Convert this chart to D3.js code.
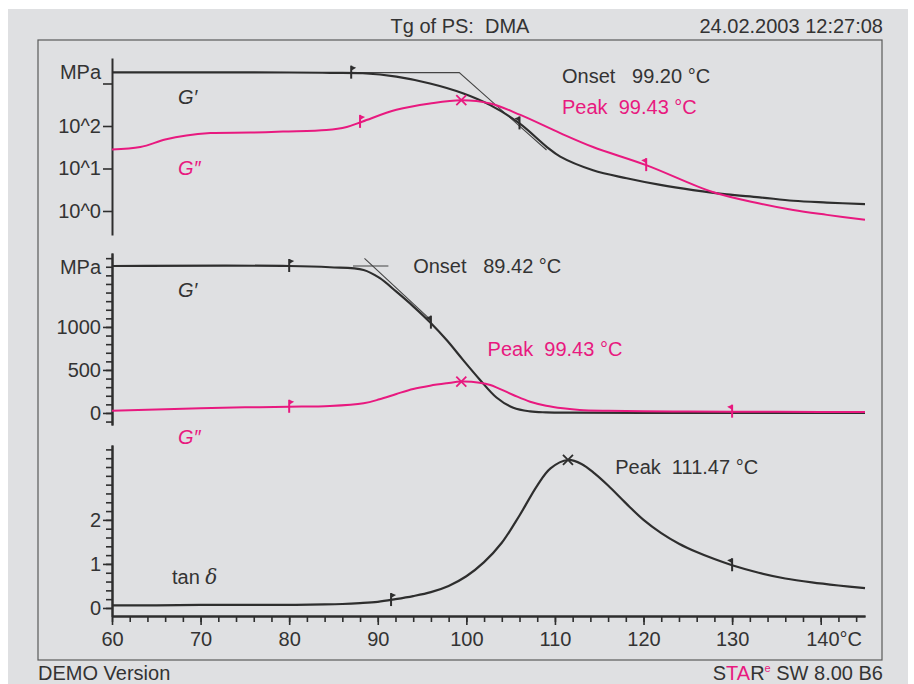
<!DOCTYPE html>
<html>
<head>
<meta charset="utf-8">
<script src="https://cdn.jsdelivr.net/npm/d3@7"></script>
<style>
	body {margin: 0; background: #fff;}
	text {font-family: "Liberation Sans", Arial, sans-serif; font-size: 20px; fill: #333;}
	.pre {white-space: pre;}
</style>
</head>
<body>
<svg id="chart" width="914" height="684"></svg>
<script>
// datos (temperatura en °C, modulo en MPa)
var gPrimeLog = [[60,1820],[70,1820],[80,1815],[84.6,1780],[88.3,1740],[92.1,1445],[95.9,1000],[99.6,590],[102.7,310],[106,115],[109.1,32],[110.6,19],[114.3,9.1],[118.1,5.9],[121.9,4.1],[125.6,3.1],[129.4,2.45],[133.1,2.1],[136.9,1.74],[140.7,1.58],[145,1.45]];
var gSecondLog = [[60,28],[63.2,32],[66,48],[68.4,60],[71.1,68],[75.6,70],[79.3,74],[84.2,80],[86.5,95],[88.3,128],[92.1,240],[95.9,339],[99.43,405],[102.7,339],[106.1,182],[110.6,68],[114.3,32],[120.3,12],[127.8,2.8],[133.1,1.5],[136.9,1.05],[140.7,0.81],[145,0.62]];
var gPrimeLin = [[60,1709],[80,1709],[84.6,1694],[88.4,1663],[90.2,1570],[92.1,1410],[94,1240],[95.9,1055],[97.8,845],[99.6,620],[101.5,390],[103.4,180],[105.3,60],[107.2,18],[109,7],[112,3],[120,2],[145,1]];
var gSecondLin = [[60,27],[65,40],[70,55],[75,65],[80,72],[84.6,81],[88.4,113],[90.2,159],[92.1,221],[94,279],[95.9,317],[97.8,345],[99.43,365],[101.5,352],[102.7,326],[105.3,209],[107.2,131],[109,85],[110.9,55],[112.8,35],[116,25],[120,20],[125,17],[130,15],[135,13],[140,12],[145,11]];
var tanDelta = [[60,0.06],[65,0.06],[70,0.07],[75,0.07],[80,0.07],[84,0.08],[86,0.09],[88,0.11],[90,0.14],[92,0.2],[94,0.27],[96,0.36],[98,0.5],[100,0.72],[102,1.04],[104,1.48],[106,2.1],[108,2.78],[109.5,3.17],[111.47,3.36],[113,3.27],[114.5,3.05],[116,2.78],[118,2.38],[120,2.0],[122,1.7],[124,1.46],[126,1.27],[128,1.11],[130,0.97],[133,0.8],[136,0.67],[139,0.58],[142,0.51],[145,0.45]];

// tangentes de onset
var onsetTan1 = [[86,1800],[99.2,1800],[109.05,27.2]];
var onsetFlat2 = [[87.2,1709],[91.2,1709]];
var onsetSlope2 = [[88.5,1797],[96,1079]];

// marcas (inicio/fin de evaluacion) y picos
var flags1 = [{t:87, v:1800, s:'gp', dir:1},{t:88, v:125, s:'gpp', dir:1},{t:106, v:115, s:'gp', dir:-1},{t:120.3, v:12, s:'gpp', dir:-1}];
var flags2 = [{t:80, v:1709, s:'gp', dir:1},{t:80, v:72, s:'gpp', dir:1},{t:96, v:1050, s:'gp', dir:-1},{t:130, v:15, s:'gpp', dir:-1}];
var flags3 = [{t:91.5, v:0.18, dir:1},{t:130, v:0.97, dir:-1}];
var peak1 = [99.43, 405], peak2 = [99.43, 365], peak3 = [111.47, 3.36];

var xTicksMajor = [60,70,80,90,100,110,120,130,140];
var logTicks = [1,10,100,1000];
var linTicksMajor = [0,500,1000];
var tanTicksMajor = [0,1,2];

var black = '#2e2e2e',
	pink = '#e8197f',
	svg = d3.select('#chart');

svg.append('rect').attr('x', 8).attr('y', 9).attr('width', 900).attr('height', 675).attr('fill', '#dfe0e2');
svg.append('rect').attr('x', 38).attr('y', 40).attr('width', 844).attr('height', 620)
	.attr('fill', 'none').attr('stroke', '#5a5a5a').attr('stroke-width', 1.2);

var x = d3.scaleLinear().domain([60,145]).range([112, 865]),
	y1 = d3.scaleLog().domain([Math.pow(10,-0.565), Math.pow(10,3.6)]).range([235, 58]),
	y2 = d3.scaleLinear().domain([-140, 1860]).range([425, 253]),
	y3 = d3.scaleLinear().domain([-0.182, 3.7]).range([616, 445]);

function styleAxis(g){
	g.select('.domain').attr('stroke', black).attr('stroke-width', 2);
	g.selectAll('.tick line').attr('stroke', black).attr('stroke-width', 1.6);
	g.selectAll('.tick text').attr('fill', '#333').style('font-size', '20px').attr('font-family', null);
}

function yAxis(scale, major, fmt, minorStep, minorFrom){
	var g = svg.append('g').attr('transform', 'translate(112,0)');
	if (minorStep){
		var minor = d3.range(minorFrom, scale.domain()[1], minorStep);
		var gm = g.append('g').call(d3.axisLeft(scale).tickValues(minor).tickSize(6).tickSizeOuter(0).tickFormat(''));
		styleAxis(gm);
	}
	var ga = g.append('g').call(d3.axisLeft(scale).tickValues(major).tickSize(9).tickPadding(2).tickSizeOuter(0).tickFormat(fmt));
	styleAxis(ga);
	return g;
}

function unitLabel(scale){
	svg.append('text').attr('x', 101).attr('y', scale.range()[1] + 21)
		.attr('text-anchor', 'end').text('MPa');
}

// ejes y
yAxis(y1, logTicks, function(d){ return d == 1000 ? '' : '10^' + Math.round(Math.log10(d)); });
unitLabel(y1);
yAxis(y2, linTicksMajor, function(d){ return d; }, 100, -100);
unitLabel(y2);
yAxis(y3, tanTicksMajor, function(d){ return d; }, 0.2, 0);

// eje x
var gx = svg.append('g').attr('transform', 'translate(0,616)');
var gxm = gx.append('g').call(d3.axisBottom(x).tickValues(d3.range(60, 146, 2)).tickSize(6).tickSizeOuter(0).tickFormat(''));
styleAxis(gxm);
var gxa = gx.append('g').call(d3.axisBottom(x).tickValues(xTicksMajor).tickSize(9).tickPadding(7).tickSizeOuter(0)
	.tickFormat(function(d){ return d == 140 ? '140°C' : d; }));
styleAxis(gxa);
gxa.selectAll('.tick text').filter(function(d){ return d == 140; })
	.attr('text-anchor', 'start').attr('x', -15);

// curvas
function curve(data, yScale, color, w){
	var line = d3.line().x(function(d){ return x(d[0]); }).y(function(d){ return yScale(d[1]); }).curve(d3.curveCatmullRom.alpha(0.5));
	svg.append('path').datum(data).attr('d', line).attr('fill', 'none')
		.attr('stroke', color).attr('stroke-width', w).attr('stroke-linejoin', 'round');
}

function straight(data, yScale){
	var line = d3.line().x(function(d){ return x(d[0]); }).y(function(d){ return yScale(d[1]); });
	svg.append('path').datum(data).attr('d', line).attr('fill', 'none')
		.attr('stroke', '#444').attr('stroke-width', 1.1);
}

function flag(t, v, yScale, dir, color){
	var px = x(t), py = yScale(v);
	svg.append('line').attr('x1', px).attr('x2', px).attr('y1', py - 7).attr('y2', py + 6)
		.attr('stroke', color).attr('stroke-width', 2);
	svg.append('path').attr('d', 'M' + px + ',' + (py - 7) + 'L' + (px + 5*dir) + ',' + (py - 5) + 'L' + px + ',' + (py - 2) + 'Z')
		.attr('fill', color);
}

function cross(t, v, yScale, color){
	var px = x(t), py = yScale(v), r = 5;
	svg.append('path').attr('d', 'M' + (px-r) + ',' + (py-r) + 'L' + (px+r) + ',' + (py+r) + 'M' + (px-r) + ',' + (py+r) + 'L' + (px+r) + ',' + (py-r))
		.attr('stroke', color).attr('stroke-width', 1.8);
}

// panel 1 (log)
straight(onsetTan1, y1);
curve(gPrimeLog, y1, black, 2.2);
curve(gSecondLog, y1, pink, 2);
flags1.forEach(function(f){ flag(f.t, f.v, y1, f.dir, f.s == 'gp' ? black : pink); });
cross(peak1[0], peak1[1], y1, pink);

// panel 2 (lineal)
straight(onsetFlat2, y2);
straight(onsetSlope2, y2);
curve(gPrimeLin, y2, black, 2.2);
curve(gSecondLin, y2, pink, 2);
flags2.forEach(function(f){ flag(f.t, f.v, y2, f.dir, f.s == 'gp' ? black : pink); });
cross(peak2[0], peak2[1], y2, pink);

// panel 3 (tan delta)
curve(tanDelta, y3, black, 2.2);
flags3.forEach(function(f){ flag(f.t, f.v, y3, f.dir, black); });
cross(peak3[0], peak3[1], y3, black);

// textos
function label(px, py, txt, color, anchor){
	return svg.append('text').attr('x', px).attr('y', py).attr('class', 'pre')
		.attr('text-anchor', anchor || 'start').style('fill', color || '#333').text(txt);
}
label(178, 104, "G′", '#333').style('font-style', 'italic');
label(178, 175, "G″", pink).style('font-style', 'italic');
label(x(110.8), 83, 'Onset   ' + onsetTan1[1][0].toFixed(2) + ' °C');
label(x(110.8), 114, 'Peak  ' + peak1[0].toFixed(2) + ' °C', pink);

label(178, 297, "G′", '#333').style('font-style', 'italic');
label(178, 444, "G″", pink).style('font-style', 'italic');
label(x(94), 273, 'Onset   89.42 °C');
label(x(102.4), 356, 'Peak  ' + peak2[0].toFixed(2) + ' °C', pink);

var tl = label(172, 584, 'tan ');
tl.append('tspan').style('font-style', 'italic').attr('font-family', 'DejaVu Serif').text('δ');
label(x(116.8), 474, 'Peak  ' + peak3[0].toFixed(2) + ' °C');

// cabecera y pie
label(460, 33, 'Tg of PS:  DMA', '#333', 'middle');
label(883, 33, '24.02.2003 12:27:08', '#333', 'end');
label(38, 680, 'DEMO Version');
var star = label(883, 680, '', '#333', 'end');
star.append('tspan').text('S');
star.append('tspan').style('fill', pink).text('TA');
star.append('tspan').text('R');
star.append('tspan').style('fill', pink).style('font-size', '11px').attr('dy', -8).text('e');
star.append('tspan').attr('dy', 8).text(' SW 8.00 B6');
</script>
</body>
</html>
